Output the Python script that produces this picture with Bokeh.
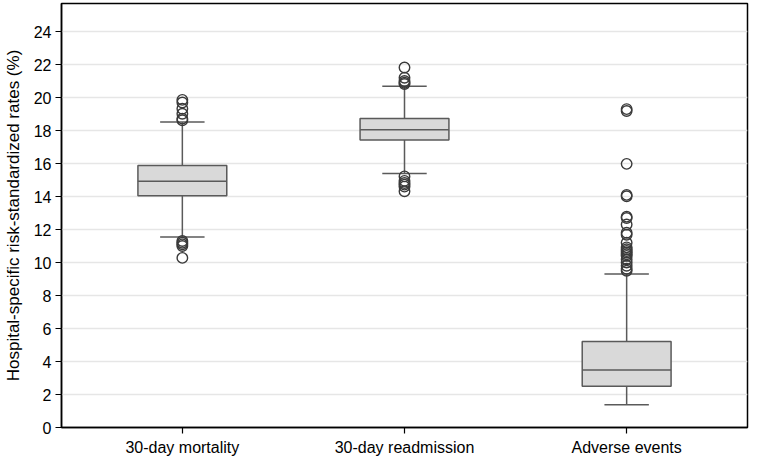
from bokeh.plotting import figure
from bokeh.models import Range1d, FixedTicker
from bokeh.embed import file_html
from bokeh.resources import INLINE

categories = ["30-day mortality", "30-day readmission", "Adverse events"]
q1 = [14.05, 17.42, 2.5]
median = [14.93, 18.05, 3.48]
q3 = [15.88, 18.73, 5.22]
whisker_low = [11.55, 15.4, 1.38]
whisker_high = [18.52, 20.68, 9.3]
outliers = [
    [18.62, 18.72, 19.02, 19.32, 19.7, 19.86, 11.3, 11.2, 11.1, 11.0, 10.28],
    [21.82, 21.2, 21.0, 20.9, 20.82, 15.22, 14.95, 14.82, 14.72, 14.6, 14.32],
    [19.3, 19.18, 15.98, 14.1, 14.02, 12.78, 12.7, 12.3, 11.8, 11.68, 11.2,
     10.92, 10.8, 10.7, 10.6, 10.5, 10.4, 10.2, 10.0, 9.8, 9.62, 9.5],
]
y_ticks = [0, 2, 4, 6, 8, 10, 12, 14, 16, 18, 20, 22, 24]
y_label = "Hospital-specific risk-standardized rates (%)"

xs = [i + 1 for i in range(len(categories))]
box_w = 0.4
cap_w = 0.2

p = figure(width=750, height=458, output_backend="svg", toolbar_location=None,
           x_range=Range1d(0.456, 3.544), y_range=Range1d(0, 25.7),
           min_border_left=59, min_border_right=3, min_border_top=3, min_border_bottom=28)

p.outline_line_color = "black"
p.outline_line_width = 1.5
p.background_fill_color = "white"
p.xgrid.grid_line_color = None
p.ygrid.grid_line_color = "#e6e6e6"
p.ygrid.grid_line_width = 1.5

# whiskers
p.segment(x0=xs, y0=q3, x1=xs, y1=whisker_high, line_color="#5a5a5a", line_width=1.5)
p.segment(x0=xs, y0=q1, x1=xs, y1=whisker_low, line_color="#5a5a5a", line_width=1.5)
p.segment(x0=[x - cap_w / 2 for x in xs], y0=whisker_high,
          x1=[x + cap_w / 2 for x in xs], y1=whisker_high, line_color="#5a5a5a", line_width=1.5)
p.segment(x0=[x - cap_w / 2 for x in xs], y0=whisker_low,
          x1=[x + cap_w / 2 for x in xs], y1=whisker_low, line_color="#5a5a5a", line_width=1.5)

# boxes
p.vbar(x=xs, width=box_w, bottom=q1, top=q3, fill_color="#d9d9d9",
       line_color="#5a5a5a", line_width=1.5)
p.segment(x0=[x - box_w / 2 for x in xs], y0=median,
          x1=[x + box_w / 2 for x in xs], y1=median, line_color="#5a5a5a", line_width=1.5)

# outliers
ox = []
oy = []
for x, vals in zip(xs, outliers):
    ox += [x] * len(vals)
    oy += vals
p.scatter(ox, oy, marker="circle", size=10.5, fill_color=None, line_color="#3a3a3a", line_width=1.4)

p.xaxis.ticker = FixedTicker(ticks=xs)
p.xaxis.major_label_overrides = {x: c for x, c in zip(xs, categories)}
p.yaxis.ticker = FixedTicker(ticks=y_ticks)
p.yaxis.axis_label = y_label

for ax in (p.xaxis, p.yaxis):
    ax.axis_line_color = "black"
    ax.axis_line_width = 1.5
    ax.major_tick_line_color = "black"
    ax.major_tick_line_width = 1.2
    ax.major_tick_out = 6
    ax.major_tick_in = 0
    ax.minor_tick_line_color = None
    ax.major_label_text_font = "Liberation Sans"
    ax.major_label_text_font_size = "16px"
    ax.major_label_text_color = "black"
    ax.axis_label_text_font = "Liberation Sans"
    ax.axis_label_text_font_size = "17px"
    ax.axis_label_text_font_style = "normal"
    ax.axis_label_text_color = "black"

p.xaxis.major_label_standoff = 5
p.yaxis.major_label_standoff = 4
p.yaxis.axis_label_standoff = 8

open("out.html", "w").write(file_html(p, INLINE))
